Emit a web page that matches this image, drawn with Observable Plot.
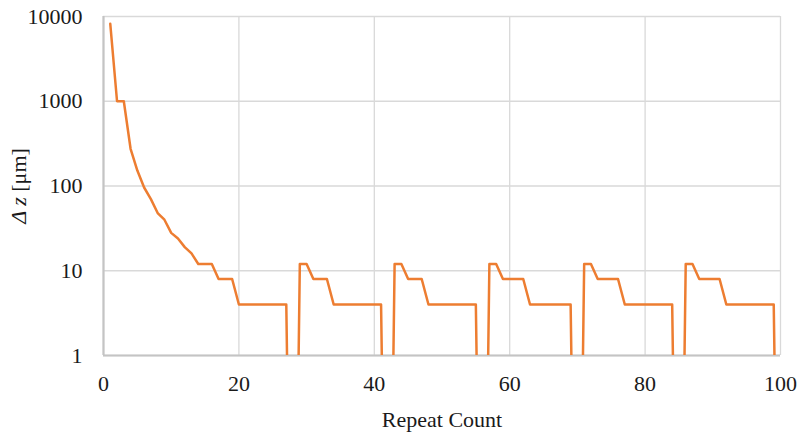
<!DOCTYPE html>
<html><head><meta charset="utf-8">
<script src="https://cdn.jsdelivr.net/npm/d3@7"></script>
<script src="https://cdn.jsdelivr.net/npm/@observablehq/plot@0.6"></script>
<style>
body{margin:0;background:#fff;position:relative}
svg{display:block}
#chart text, #chart tspan {font-family: "Liberation Serif", "Times New Roman", serif !important;}
#ytitle{position:absolute;left:19px;top:186px;transform:translate(-50%,-50%) rotate(-90deg);
  font-family:"Liberation Serif","Times New Roman",serif;font-size:22px;line-height:1;white-space:nowrap;color:#1a1a1a}
</style>
</head><body>
<div id="ytitle"><i>Δ</i><i> z</i> [μm]</div>
<div id="chart"></div>
<script>
// Δz [µm] for repeat counts 1..100 (0 = zero step, drawn below the log axis)
const deltaZ = [8200,1000,1000,275,152,96,70,48,40,28,24,19,16,12,12,12,8,8,8,
  4,4,4,4,4,4,4,4, 0, 12,12, 8,8,8, 4,4,4,4,4,4,4,4, 0, 12,12, 8,8,8, 4,4,4,4,4,4,4,4,
  0, 12,12, 8,8,8,8, 4,4,4,4,4,4,4, 0, 12,12, 8,8,8,8, 4,4,4,4,4,4,4,4,
  0, 12,12, 8,8,8,8, 4,4,4,4,4,4,4,4, 0];
const repeatCount = deltaZ.map((_, i) => i + 1);
const xTicks = [0, 20, 40, 60, 80, 100];
const yTicks = [1, 10, 100, 1000, 10000];
const xTitle = "Repeat Count";

const data = repeatCount.map((x, i) => ({x, dz: deltaZ[i]}));
const floorValue = 1e-5;
const serif = "Liberation Serif";

function render() {
  const chart = Plot.plot({
    width: 799, height: 437,
    marginLeft: 103, marginRight: 19, marginTop: 16, marginBottom: 82,
    x: {domain: [0, 100]},
    y: {type: "log", domain: [1, 10000]},
    style: {fontFamily: serif, fontSize: "22px", color: "#1a1a1a", background: "transparent"},
    marks: [
      Plot.gridX(xTicks, {stroke: "#d9d9d9", strokeOpacity: 1, strokeWidth: 1.3}),
      Plot.gridY(yTicks, {stroke: "#d9d9d9", strokeOpacity: 1, strokeWidth: 1.3}),
      Plot.axisX(xTicks, {tickSize: 0, tickPadding: 20, label: null, tickFormat: d => String(d), fontSize: 22, fontFamily: serif}),
      Plot.axisY(yTicks, {tickSize: 0, tickPadding: 21, label: null, tickFormat: d => String(d), fontSize: 22, fontFamily: serif}),
      Plot.ruleX([0], {stroke: "#c4c4c4", strokeWidth: 2.2}),
      Plot.ruleY([1], {stroke: "#c4c4c4", strokeWidth: 2.2}),
      Plot.line(data, {x: "x", y: d => Math.max(d.dz, floorValue), stroke: "#ED7D31", strokeWidth: 2.5, clip: true}),
      Plot.text([xTitle], {frameAnchor: "bottom", dy: 71, fontSize: 22, fontFamily: serif, fill: "#1a1a1a"})
    ]
  });
  const host = document.getElementById("chart");
  host.innerHTML = "";
  host.appendChild(chart);
  d3.select(chart).selectAll("text").style("font-family", serif);
}

render();
if (document.fonts && document.fonts.load) {
  document.fonts.load("22px 'Liberation Serif'").then(render, () => {});
}
</script>
</body></html>
